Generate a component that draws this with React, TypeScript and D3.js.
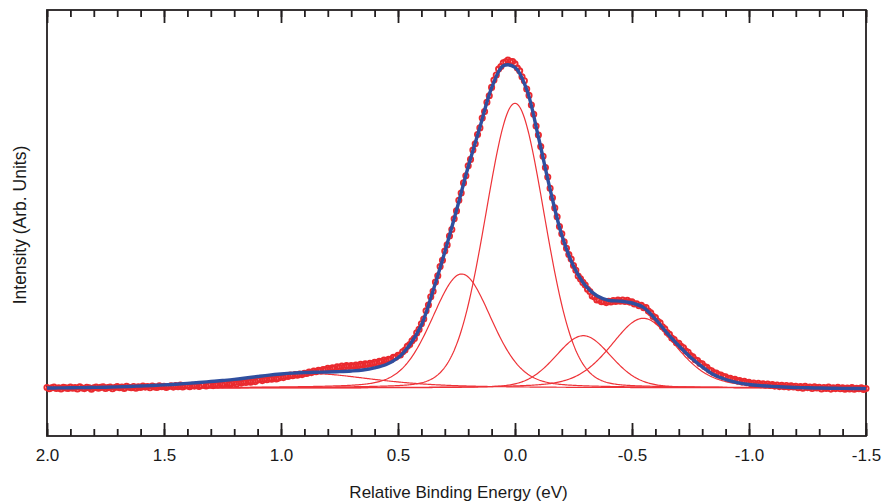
import React, { useRef, useEffect } from 'react';
import * as d3 from 'd3';

// measured spectrum, one point every 0.01 eV from 2.00 eV down to -1.50 eV
const energyStart = 2.0;
const energyStep = 0.01;
const intensity = [
  0.5, -0.8, 0.3, 1.0, -0.5, 0.2, -1.0, 0.6, 0.1, -0.4,
  0.9, -0.2, 0.4, -0.9, 1.1, 0.0, -0.6, 0.8, 0.3, -1.2,
  0.2, 1.0, -0.3, 0.6, 1.3, -0.5, 0.4, 0.9, -0.8, 0.5,
  1.4, 0.3, 1.0, -0.4, 1.6, 0.8, 0.2, 1.5, -0.2, 1.1,
  0.6, 1.9, 0.9, 1.5, 0.2, 2.0, 1.1, 0.5, 2.3, 1.2,
  1.8, 0.6, 1.5, 2.2, 0.9, 2.4, 1.3, 2.9, 1.0, 2.1,
  2.3, 1.2, 2.6, 1.9, 3.1, 1.5, 2.8, 3.4, 2.0, 3.0,
  3.5, 2.4, 3.9, 3.1, 4.6, 3.3, 4.1, 5.0, 3.6, 4.4,
  5.2, 4.0, 5.8, 4.9, 6.3, 5.5, 6.9, 5.8, 7.1, 6.4,
  7.9, 8.6, 7.4, 9.1, 8.2, 9.6, 8.8, 10.1, 9.0, 9.9,
  11.2, 10.4, 12.0, 11.6, 12.9, 12.2, 13.5, 12.8, 14.0, 13.4,
  14.8, 14.6, 15.9, 15.4, 16.9, 16.3, 17.6, 17.0, 18.5, 18.1,
  19.6, 18.8, 20.3, 19.5, 21.2, 20.4, 21.9, 21.0, 22.4, 21.5,
  22.4, 21.7, 22.9, 22.3, 23.6, 22.8, 24.2, 23.5, 24.8, 24.3,
  25.6, 25.0, 26.7, 26.4, 27.9, 27.1, 28.6, 28.3, 30.7, 30.8,
  32.8, 33.0, 36.3, 37.9, 41.8, 43.4, 47.2, 49.6, 55.1, 58.6,
  64.3, 69.0, 77.2, 82.9, 91.3, 96.8, 105.9, 112.2, 121.4, 127.7,
  136.9, 143.1, 152.0, 158.5, 169.2, 177.1, 187.8, 195.0, 205.1, 212.2,
  222.2, 228.6, 237.9, 244.2, 253.5, 260.1, 269.9, 276.4, 285.8, 292.3,
  300.6, 307.9, 313.0, 318.9, 321.4, 325.3, 326.2, 327.9, 326.4, 326.5,
  324.1, 319.9, 317.3, 311.2, 307.3, 299.0, 292.6, 283.0, 273.8, 261.9,
  252.9, 241.4, 231.8, 220.4, 210.9, 199.8, 190.3, 180.1, 171.2, 161.5,
  154.2, 146.1, 139.8, 133.4, 128.9, 122.5, 117.8, 111.9, 109.1, 105.6,
  102.9, 98.8, 96.4, 92.0, 90.9, 88.1, 88.0, 86.2, 86.5, 85.4,
  86.8, 86.0, 87.5, 86.6, 87.9, 86.8, 88.0, 86.5, 87.6, 85.9,
  86.1, 84.0, 84.3, 82.2, 82.6, 80.3, 80.5, 76.9, 75.2, 71.6,
  70.4, 66.8, 65.1, 61.2, 59.3, 55.4, 53.6, 50.0, 48.4, 45.2,
  44.8, 41.6, 40.3, 37.0, 35.8, 32.4, 31.2, 28.3, 27.4, 24.6,
  24.1, 21.5, 20.6, 17.9, 17.3, 15.2, 15.0, 13.1, 13.0, 11.4,
  11.2, 9.4, 9.8, 8.1, 8.6, 6.9, 7.4, 5.9, 6.6, 5.2,
  5.6, 4.1, 5.0, 3.5, 4.6, 3.2, 4.3, 2.8, 3.9, 2.5,
  3.4, 1.9, 3.0, 1.4, 2.6, 1.2, 2.5, 0.9, 2.1, 1.0,
  1.8, 0.3, 1.4, -0.2, 1.6, 0.4, 1.0, -0.5, 1.2, 0.1,
  0.8, -0.9, 0.5, -0.4, 0.9, -1.1, 0.2, -0.6, 0.7, -0.8,
  0.3, -1.2, -0.1, -0.9, 0.4, -1.3, -0.3, -0.7, 0.2, -1.4,
  -0.5,
];

// total fit envelope, every 0.05 eV from 2.00 eV down to -1.50 eV
const fitStep = 0.05;
const fitIntensity = [
  0.0, 0.1, 0.2, 0.4, 0.6, 0.8, 1.1, 1.5, 2.0, 2.5,
  3.1, 3.8, 4.6, 5.5, 6.5, 7.5, 8.6, 10.0, 11.5, 12.9,
  14.0, 14.9, 15.5, 15.8, 16.0, 16.4, 17.0, 18.0, 20.1, 23.5,
  30.2, 43.1, 63.0, 97.4, 136.0, 177.7, 221.3, 260.8, 300.0, 322.2,
  320.7, 298.5, 251.0, 198.7, 152.8, 121.9, 102.6, 92.2, 87.7, 86.9,
  85.0, 80.4, 68.8, 54.9, 42.3, 30.8, 21.2, 13.2, 8.5, 5.4,
  3.5, 2.4, 1.6, 1.0, 0.5, 0.2, 0.0, -0.2, -0.4, -0.5,
  -0.6,
];

// fit components (pseudo-Voigt): centre (eV), height, FWHM (eV), Lorentzian fraction
const peakCenters = [0.88, 0.228, 0.0, -0.292, -0.548];
const peakHeights = [14.5, 114, 284.7, 52.3, 69.7];
const peakFwhm = [0.66, 0.302, 0.297, 0.282, 0.332];
const peakMix = [0.6, 0.25, 0.1, 0.2, 0.35];

const xMajorTicks = [2.0, 1.5, 1.0, 0.5, 0.0, -0.5, -1.0, -1.5];
const xDomain = [2.0, -1.5];
const yDomain = [-48, 378];

const pseudoVoigt = (e: number, k: number) => {
  const dx = (e - peakCenters[k]) / peakFwhm[k];
  const g = Math.exp(-4 * Math.LN2 * dx * dx);
  const l = 1 / (1 + 4 * dx * dx);
  return peakHeights[k] * (peakMix[k] * l + (1 - peakMix[k]) * g);
};

const SpectrumChart = () => {
  const svgRef = useRef<SVGSVGElement | null>(null);

  useEffect(() => {
    const width = 883;
    const height = 504;
    const margin = { top: 10, right: 17, bottom: 68, left: 47 };
    const innerW = width - margin.left - margin.right;
    const innerH = height - margin.top - margin.bottom;

    const root = d3.select(svgRef.current);
    root.selectAll('*').remove();
    root.attr('width', width).attr('height', height);

    const svg = root.append('g')
      .attr('transform', `translate(${margin.left},${margin.top})`);

    const x = d3.scaleLinear().domain(xDomain).range([0, innerW]);
    const y = d3.scaleLinear().domain(yDomain).range([innerH, 0]);

    root.append('defs').append('clipPath').attr('id', 'plot-clip')
      .append('rect').attr('width', innerW).attr('height', innerH);

    const fmt = (d: number) => d.toFixed(1);
    const minorTicks = d3.range(36).map(i => +(2 - i * 0.1).toFixed(1));

    // ticks point inward on top and bottom
    svg.append('g')
      .attr('transform', `translate(0,${innerH})`)
      .call(d3.axisBottom(x).tickValues(minorTicks).tickSize(-7).tickFormat(() => ''))
      .call(g => g.select('.domain').remove());
    svg.append('g')
      .attr('class', 'x-axis')
      .attr('transform', `translate(0,${innerH})`)
      .call(d3.axisBottom(x).tickValues(xMajorTicks).tickSize(-13).tickPadding(13).tickFormat(fmt as any))
      .call(g => g.select('.domain').remove());
    svg.append('g')
      .call(d3.axisTop(x).tickValues(minorTicks).tickSize(-7).tickFormat(() => ''))
      .call(g => g.select('.domain').remove());
    svg.append('g')
      .call(d3.axisTop(x).tickValues(xMajorTicks).tickSize(-13).tickFormat(() => ''))
      .call(g => g.select('.domain').remove());

    svg.selectAll('.tick line').attr('stroke', '#231f20').attr('stroke-width', 1.8);
    svg.selectAll('.x-axis text')
      .attr('fill', '#1a1a1a')
      .style('font-family', '"Liberation Sans", Arial, sans-serif')
      .style('font-size', '17px');

    svg.append('rect')
      .attr('width', innerW)
      .attr('height', innerH)
      .attr('fill', 'none')
      .attr('stroke', '#231f20')
      .attr('stroke-width', 1.8);

    // components
    const compGroup = svg.append('g').attr('clip-path', 'url(#plot-clip)');
    const sampleE = d3.range(701).map(i => 2 - i * 0.005);
    peakCenters.forEach((_, k) => {
      const line = d3.line<number>()
        .x(e => x(e))
        .y(e => y(pseudoVoigt(e, k)));
      compGroup.append('path')
        .datum(sampleE)
        .attr('fill', 'none')
        .attr('stroke', '#ee3338')
        .attr('stroke-width', 1.2)
        .attr('d', line);
    });

    // measured points
    const points = intensity.map((v, i) => ({ e: energyStart - i * energyStep, v }));
    svg.append('g')
      .selectAll('circle')
      .data(points)
      .join('circle')
      .attr('cx', d => x(d.e))
      .attr('cy', d => y(d.v))
      .attr('r', 2.6)
      .attr('fill', 'none')
      .attr('stroke', '#ea2a2f')
      .attr('stroke-width', 1.9);

    // fit envelope drawn on top of the points
    const fitPoints = fitIntensity.map((v, i) => ({ e: energyStart - i * fitStep, v }));
    const fitLine = d3.line<{ e: number; v: number }>()
      .x(d => x(d.e))
      .y(d => y(d.v))
      .curve(d3.curveCatmullRom);
    svg.append('g').attr('clip-path', 'url(#plot-clip)')
      .append('path')
      .datum(fitPoints)
      .attr('fill', 'none')
      .attr('stroke', '#2f4f9f')
      .attr('stroke-width', 3.4)
      .attr('d', fitLine);

    // X-axis label
    svg.append('text')
      .attr('x', innerW / 2 + 2)
      .attr('y', innerH + 62)
      .attr('fill', '#1a1a1a')
      .style('font-family', '"Liberation Sans", Arial, sans-serif')
      .style('font-size', '17px')
      .style('text-anchor', 'middle')
      .text('Relative Binding Energy (eV)');

    // Y-axis label
    svg.append('text')
      .attr('transform', 'rotate(-90)')
      .attr('x', -215)
      .attr('y', -21.5)
      .attr('fill', '#1a1a1a')
      .style('font-family', '"Liberation Sans", Arial, sans-serif')
      .style('font-size', '17.5px')
      .style('text-anchor', 'middle')
      .text('Intensity (Arb. Units)');
  }, []);

  return <svg ref={svgRef} style={{ position: 'absolute', left: 0, top: 0, display: 'block' }}></svg>;
};

export default function App() {
  return <SpectrumChart />;
}
